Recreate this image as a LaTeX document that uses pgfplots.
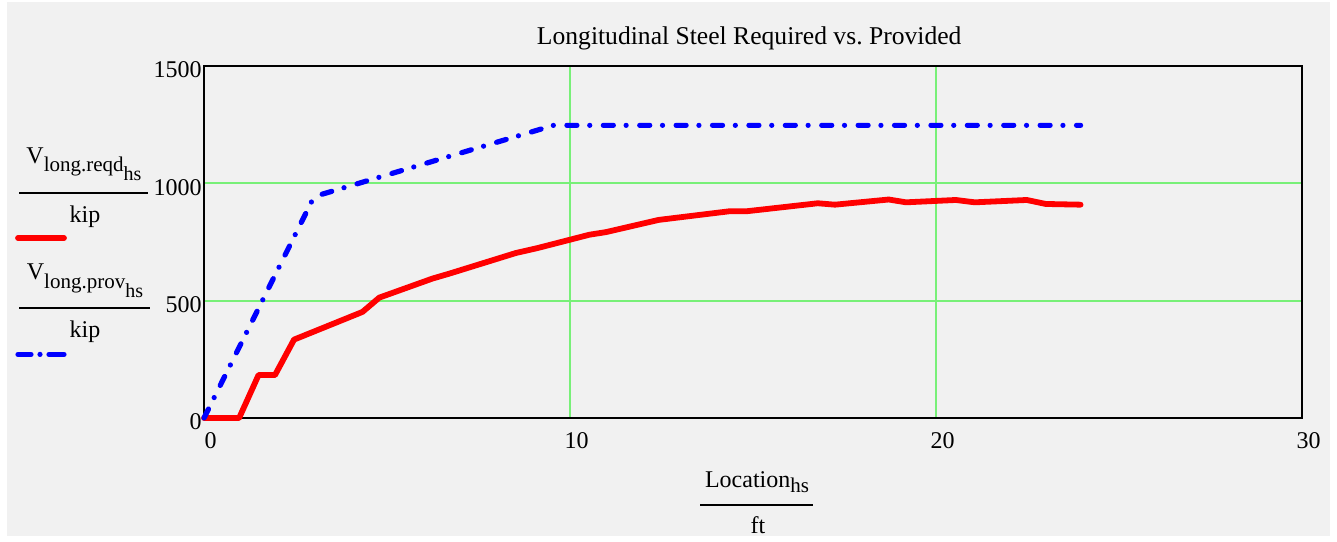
\documentclass[border=0pt]{standalone}
\usepackage{fontspec}
\setmainfont{Liberation Serif}
\usepackage{pgfplots}
\pgfplotsset{compat=1.18}
\definecolor{bg}{RGB}{241,241,241}
\definecolor{gridgreen}{RGB}{120,240,120}
\newcommand{\sub}[1]{\raisebox{-4.2pt}{\fontsize{10.5}{12}\selectfont #1}}
\newcommand{\subsub}[1]{\raisebox{-4.5pt}{\fontsize{10}{12}\selectfont #1}}
\begin{document}
\fontsize{12}{14}\selectfont\frenchspacing
\begin{tikzpicture}[x=1pt,y=1pt]
\fill[white] (0,0) rectangle (668.5,269.5);
\fill[bg] (3.5,1.5) rectangle (665,268.5);
\begin{axis}[
  at={(102pt,60.5pt)}, anchor=south west,
  scale only axis, width=549pt, height=176pt,
  xmin=0, xmax=30, ymin=0, ymax=1500,
  xtick={0,10,20,30}, ytick={0,500,1000,1500},
  major tick length=0pt,
  grid=major,
  major grid style={gridgreen, line width=1pt},
  axis line style={line width=1pt, black},
  clip=false,
  /pgf/number format/assume math mode=true,
  /pgf/number format/set thousands separator={},
  tick label style={font=\fontsize{12}{14}\selectfont, inner sep=0pt},
  xticklabel style={anchor=north, yshift=-6.85pt, xshift=3.3pt},
  yticklabel style={anchor=east, xshift=-1pt, yshift=-2pt},
]
\addplot[red, line width=2.9pt, line join=round, line cap=round] coordinates {
(0,0) (0.96,0) (1.49,183) (1.94,183) (2.46,334) (4.33,452) (4.79,513)
(6.24,594) (6.70,615) (8.52,703) (9.11,724) (10.53,781) (10.98,792)
(12.42,844) (12.89,853) (14.36,881) (14.83,881) (16.77,915) (17.24,909)
(18.71,931) (19.18,919) (20.54,929) (21.06,919) (22.48,929) (23.0,912) (23.95,909)
};
\addplot[blue, line width=2.6pt, line join=round, line cap=round,
  dash pattern=on 5pt off 6.4pt on 0pt off 6.8pt] coordinates {
(0,0) (2.95,925) (3.15,950) (9.55,1247) (23.95,1247)
};
\end{axis}
% title
\node[anchor=base] at (374.6,247) {\fontsize{12.8}{15}\selectfont Longitudinal Steel Required vs. Provided};
% legend
\node[anchor=base] at (42,187.8) {V\sub{long.reqd\subsub{hs}}};
\draw[line width=1pt] (9.5,173.2) -- (74,173.2);
\node[anchor=base] at (42.5,158) {kip};
\draw[red, line width=2.9pt, line cap=round] (9,150.5) -- (32,150.5);
\node[anchor=base] at (42.5,129.5) {V\sub{long.prov\subsub{hs}}};
\draw[line width=1pt] (9.5,115.3) -- (75,115.3);
\node[anchor=base] at (42.5,100.5) {kip};
\draw[blue, line width=2.6pt, line cap=round, dash pattern=on 6.5pt off 4.5pt on 0pt off 4.5pt on 7.5pt off 10pt] (9,92.3) -- (32,92.3);
% x label
\node[anchor=base] at (378.5,25.8) {Location\raisebox{-2.7pt}{\fontsize{10.5}{12}\selectfont hs}};
\draw[line width=1pt] (350,17.2) -- (406.5,17.2);
\node[anchor=base] at (379,2.7) {ft};
\end{tikzpicture}
\end{document}
